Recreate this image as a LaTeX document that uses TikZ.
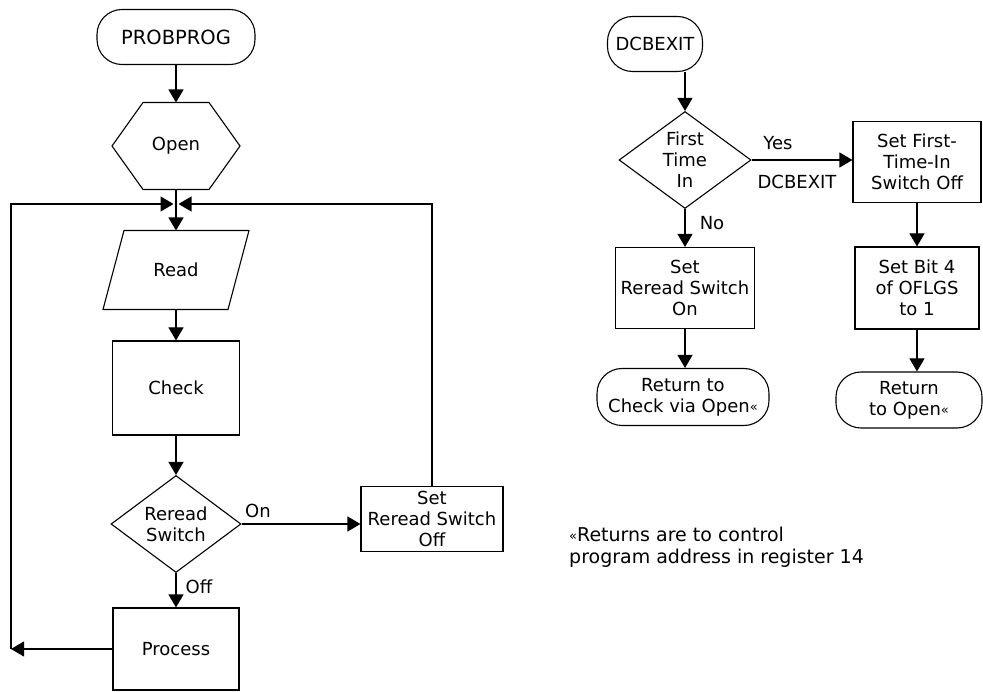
\documentclass[tikz,border=0pt]{standalone}
\usepackage{fontspec}
\setmainfont{DejaVu Sans}
\usetikzlibrary{arrows.meta,shapes.geometric}
% small mark used on the return terminals and in the note
\newcommand\retmark{\raisebox{1pt}{\fontsize{13}{13}\selectfont «}}

\begin{document}
\begin{tikzpicture}[x=1pt,y=-1pt,
  every node/.style={font=\fontsize{18}{21}\selectfont, align=center, inner sep=0pt},
  conn/.style={line width=1.1pt},
  arr/.style={conn, -{Triangle[length=13pt,width=15pt]}},
  term/.style={draw, line width=1.1pt, rectangle, rounded corners=25pt},
  proc/.style={draw, line width=1.1pt, rectangle},
  decision/.style={draw, line width=1.1pt, diamond, shape aspect=1.36},
  shapebox/.style={outer sep=0pt},
  shapeline/.style={line width=1.1pt, line join=miter}
]
\useasboundingbox (0,0) rectangle (983,692);

% ---------------- PROBPROG flow ----------------
\node[term, minimum width=158pt, minimum height=55pt, font=\fontsize{19.5}{21}\selectfont] (probprog) at (176,37) {PROBPROG};

\node[shapebox, minimum width=128pt, minimum height=87pt] (open) at (176,146) {Open};
\draw[shapeline] (open.west) -- ([xshift=31pt]open.north west) -- ([xshift=-31pt]open.north east)
  -- (open.east) -- ([xshift=-31pt]open.south east) -- ([xshift=31pt]open.south west) -- cycle;

\coordinate (merge) at (176,204);
\coordinate (mL) at (173.5,204);
\coordinate (mR) at (178.5,204);

\node[shapebox, minimum width=146pt, minimum height=79pt] (read) at (176,270) {Read};
\draw[shapeline] ([xshift=21pt]read.north west) -- (read.north east)
  -- ([xshift=-21pt]read.south east) -- (read.south west) -- cycle;

\node[proc, minimum width=127pt, minimum height=94pt] (check) at (176,388) {Check};
\node[decision, minimum width=130pt, minimum height=97pt] (reread) at (176,524) {Reread\\Switch};
\node[proc, minimum width=142pt, minimum height=65pt] (setoff) at (432,519) {Set\\Reread Switch\\Off};
\node[proc, minimum width=126pt, minimum height=82pt] (process) at (176,649) {Process};
\coordinate (loopL) at (11,649);

\node (onlbl) at (258,511) {On};
\node (offlbl) at (199,587) {Off};

\draw[arr] (probprog) -- (open);
\draw[arr] (open.south) -- (read.north);
\draw[arr] (read.south) -- (check.north);
\draw[arr] (check) -- (reread);
\draw[arr] (reread.east) -- (reread.east -| setoff.west);
\draw[arr] (reread.south) -- (process.north);
\draw[arr] (process.west) -- (loopL);
\draw[arr] (loopL) -- (loopL |- merge) -- (mL);
\draw[arr] (setoff.north) -- (setoff.north |- merge) -- (mR);

% ---------------- DCBEXIT flow ----------------
\node[term, minimum width=95pt, minimum height=55pt] (dcbexit) at (655,44) {DCBEXIT};
\node[decision, minimum width=132pt, minimum height=97pt] (first) at (685,160) {First\\Time\\In};
\node[proc, minimum width=128pt, minimum height=81pt] (ftoff) at (917,162) {Set First-\\Time-In\\Switch Off};
\node[proc, minimum width=139pt, minimum height=81pt] (rron) at (685,288) {Set\\Reread Switch\\On};
\node[proc, minimum width=124pt, minimum height=82pt] (bit4) at (917,288) {Set Bit 4\\of OFLGS\\to 1};
\node[term, minimum width=172pt, minimum height=57pt] (ret1) at (683,397) {Return to\\Check via Open\retmark};
\node[term, minimum width=146pt, minimum height=56pt] (ret2) at (909,400) {Return\\to Open\retmark};

\node (yeslbl) at (778,143) {Yes};
\node (exitlbl) at (797,182) {DCBEXIT};
\node (nolbl) at (712,223) {No};

\draw[arr] (dcbexit.south -| first.north) -- (first.north);
\draw[arr] (first.east) -- (first.east -| ftoff.west);
\draw[arr] (first.south) -- (rron.north);
\draw[arr] (ftoff.south) -- (bit4.north);
\draw[arr] (rron.south) -- (rron.south |- ret1.north);
\draw[arr] (bit4.south) -- (bit4.south |- ret2.north);

% ---------------- note ----------------
\node[anchor=north west, align=left, font=\fontsize{19}{22}\selectfont] (note) at (569,527)
  {\retmark Returns are to control\\program address in register 14};
\end{tikzpicture}
\end{document}
